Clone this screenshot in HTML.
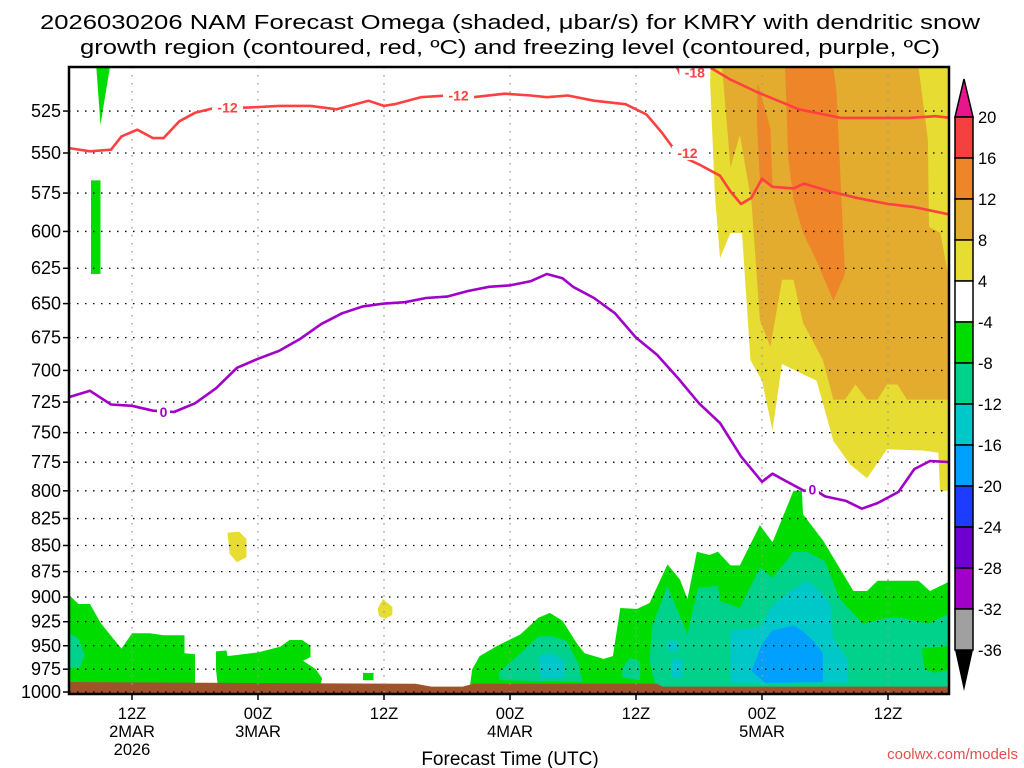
<!DOCTYPE html>
<html><head><meta charset="utf-8"><style>
html,body{margin:0;padding:0;background:#fff;}
svg{display:block;font-family:"Liberation Sans",sans-serif;}
</style></head><body>
<svg id="chart" width="1024" height="768" viewBox="0 0 1024 768" xmlns="http://www.w3.org/2000/svg">
<text x="510" y="29" font-size="20" text-anchor="middle" textLength="940" lengthAdjust="spacingAndGlyphs">2026030206 NAM Forecast Omega (shaded, μbar/s) for KMRY with dendritic snow</text>
<text x="510" y="54" font-size="20" text-anchor="middle" textLength="860" lengthAdjust="spacingAndGlyphs">growth region (contoured, red, ºC) and freezing level (contoured, purple, ºC)</text>
<text x="510" y="765" font-size="19" text-anchor="middle">Forecast Time (UTC)</text>
<text x="1018" y="759" font-size="15" text-anchor="end" fill="#e05050">coolwx.com/models</text>
<defs><clipPath id="plotclip"><rect x="69" y="67" width="880" height="627"/></clipPath></defs>
<g id="shade" clip-path="url(#plotclip)"></g>
<g id="grid"></g>
<g id="lines" clip-path="url(#plotclip)"></g>
<g id="axes"></g>
<g id="cbar"></g>
</svg>
<script>
const pressureTicks=[525,550,575,600,625,650,675,700,725,750,775,800,825,850,875,900,925,950,975,1000];
const timeTickHours=[6,18,30,42,54,66,78];
const timeTickLabels=[["12Z","2MAR","2026"],["00Z","3MAR"],["12Z"],["00Z","4MAR"],["12Z"],["00Z","5MAR"],["12Z"]];
// freezing level (0C) contour
const fzHours=[0,2,4,6,8,10,12,14,16,18,20,22,24,26,28,30,32,34,36,38,40,42,44,45.5,47,48,50,52,54,56,58,60,62,64,66,67,68,70,71,72,74,75.5,77,79,80.5,82,84];
const fzPres=[721,716,727,728,732,733,726,714,698,691,685,676,665,657,652,650,649,646,645,641,638,637,634,629,632,638,646,657,675,688,706,726,742,770,792,785,790,800,799,805,809,816,811,801,781,774,775];
// -12C contour
const m12Hours=[0,2,4,5,6.5,8,9,10.5,12,14,17,20,23,25.5,28.5,30,31,33.5,36,38.5,41.5,44,45.5,47.5,50,53,55,56.5,58,60,62,63,64,65,66,67,69,70,72.5,75,78,80.5,84];
const m12Pres=[547,549,548,540,536,541,541,531,526,523,523,522,522,524,519,522,521,517,516,517,515,516,517,516,519,521,527,538,551,557,564,574,582,578,566,571,572,569,574,578,582,584,589];
// -18C contour
const m18Hours=[61,63,65.5,69.5,73.5,77,80,82.5,84];
const m18Pres=[500,507,514,524,529,529,529,528,529];
const m18bHours=[57.9,58.3];
const m18bPres=[500,505];
// colorbar levels
const cbLabels=["20","16","12","8","4","-4","-8","-12","-16","-20","-24","-28","-32","-36"];
const cbColors=["#f54040","#ef8529","#e3ac2f","#e6dc32","#ffffff","#00dc00","#00d28c","#00c8c8","#00a0ff","#1e3cff","#6e00d2","#a000c8","#a0a0a0"];
// shaded omega regions: [hour, pressure] pairs
const regYellow=[[61,500],[84,500],[84,800],[82.95,800],[82.8,767],[81.3,765],[77.9,764],[76,789],[74.4,777],[72.8,757],[71.2,708],[67.9,695],[67,748],[66,708],[64.9,692],[64.1,601],[63,601],[62,618],[61.5,575]];
const regGold=[[62.2,500],[80.9,500],[81.8,542],[81.9,597],[83,601],[83.7,629],[84,629],[84,723],[79.8,723],[78.9,711],[77.9,711],[77,723],[76,723],[74.9,711],[73.9,723],[72.8,723],[71.8,692],[69.9,664],[69,633],[67.9,633],[66.8,682],[65.8,662],[65,581],[63.9,539],[63,559]];
const regOrange=[[68.2,500],[72.8,500],[73.1,514],[73.9,629],[72.8,648],[71.2,620],[69.9,601],[69,579],[68.5,554]];
const regOrange2=[[65.6,509],[66.8,535],[67,571],[65.8,567],[65.5,531]];
const regYellowS1=[[15.1,838],[16.2,837],[16.9,844],[16.9,861],[16,866],[15.3,858]];
const regYellowS2=[[29.4,912],[29.9,902],[30.8,910],[30.8,918],[30.1,922],[29.5,919]];
const regGreenT=[[2.6,500],[3.9,500],[3.0,533]];
const regGreenR=[[2.1,567],[3.0,567],[3.0,629],[2.1,629]];
const regGreenA=[[0,898],[0.9,907],[2,907],[3,926],[4.4,945],[5,953],[6,937],[7.7,937],[9,939],[11,939],[11,958],[12,959],[12,1000],[0,1000]];
const regTealA=[[0,937],[0.9,942],[1.5,960],[1,974],[0,974]];
const regGreenB=[[14,956],[15,955],[15.1,961],[18,957],[20.1,951],[21,944],[22.2,944],[23,950],[23,962],[22.3,966],[23.5,975],[24.1,985],[23.9,995],[14.2,995],[14,976]];
const regGreenSq=[[28,979],[29,979],[29,987],[28,987]];
const regGreenC=[[38.2,992],[38.4,975],[39.1,961],[40.8,950],[43,938],[44.7,921],[45.8,916],[47,924],[48.4,948],[49.1,958],[50.9,964],[51.8,961],[52.5,911],[54.1,912],[55.3,906],[57,868],[58.2,883],[58.9,902],[59.8,856],[61,859],[61.8,856],[63,869],[63.9,869],[65.8,831],[67,847],[69,800],[69.8,800],[69.9,821],[71.8,845],[74.7,894],[76,894],[77,884],[80.9,884],[82,894],[84,884],[84,1000],[38.2,1000]];
const regTealC1=[[40.9,979],[43,958],[44.7,940],[46,940],[47.4,945],[48.5,969],[48.9,989],[41,987]];
const regTealC2=[[52.7,974],[53.4,963],[54.4,967],[54.4,987],[52.7,984]];
const regTealC3=[[55.5,931],[57,889],[58.9,938],[59.9,891],[61.8,889],[62,904],[63.9,911],[65.8,871],[67,881],[69,856],[70.3,856],[72,865],[73.4,902],[75.6,927],[77.9,921],[79.4,921],[81.8,927],[84,916],[84,1000],[56,1000],[55.3,967]];
const regGreenC2=[[81.2,953],[83.7,950],[84,950],[84,975],[82.5,979],[81.5,975]];
const regCyan1=[[44.7,962],[45.8,957],[47.2,966],[47.2,984],[44.9,985]];
const regCyan2=[[57,945],[58,945],[58,956],[57,956]];
const regCyan3=[[57.4,964],[58.4,964],[58.4,984],[57.4,984]];
const regCyan4=[[63,934],[65.8,931],[66.8,911],[68.7,894],[70.3,884],[71.5,894],[72.5,907],[72.8,942],[74.2,966],[74.2,990],[63,990]];
const regBlue=[[65,977],[66,948],[67,934],[69,929],[69.8,934],[70.9,945],[71.8,958],[71.8,989],[66.3,990]];
const groundHours=[0,33,34.5,37.5,38.5,56,56.5,84];
const groundPres=[989,991,994,994,991,991,994,994];

const NS="http://www.w3.org/2000/svg";
const X=h=>69+h*10.5;
const Y=p=>692+901.6*Math.log(p/1000);
function mk(tag,attrs,parent){const e=document.createElementNS(NS,tag);for(const k in attrs)e.setAttribute(k,attrs[k]);parent.appendChild(e);return e;}
const shade=document.getElementById('shade'),grid=document.getElementById('grid'),lines=document.getElementById('lines'),axes=document.getElementById('axes'),cbar=document.getElementById('cbar');

function poly(reg,color,name){
  const pts=reg.map(d=>X(d[0]).toFixed(1)+","+Y(d[1]).toFixed(1)).join(" ");
  const e=mk('polygon',{points:pts,fill:color},shade);
  
  
}
poly(regYellow,"#e6dc32","omega-4-8-region");
poly(regGold,"#e3ac2f","omega-8-12-region");
poly(regOrange,"#ef8529","omega-12-16-region");
poly(regOrange2,"#ef8529","omega-12-16-sliver");
poly(regYellowS1,"#e6dc32","omega-4-8-patch");
poly(regYellowS2,"#e6dc32","omega-4-8-blob");
poly(regGreenT,"#00dc00","omega-green-spike");
poly(regGreenR,"#00dc00","omega-green-bar");
poly(regGreenA,"#00dc00","omega-green-left");
poly(regTealA,"#00d28c","omega-teal-left");
poly(regGreenB,"#00dc00","omega-green-mid");
poly(regGreenSq,"#00dc00","omega-green-square");
poly(regGreenC,"#00dc00","omega-green-right");
poly(regTealC1,"#00d28c","omega-teal-1");
poly(regTealC2,"#00d28c","omega-teal-2");
poly(regTealC3,"#00d28c","omega-teal-3");
poly(regGreenC2,"#00dc00","omega-green-inner");
poly(regCyan1,"#00c8c8","omega-cyan-1");
poly(regCyan2,"#00c8c8","omega-cyan-2");
poly(regCyan3,"#00c8c8","omega-cyan-3");
poly(regCyan4,"#00c8c8","omega-cyan-4");
poly(regBlue,"#00a0ff","omega-blue");
// ground
{
  let d="M"+X(groundHours[0])+","+Y(groundPres[0]);
  for(let i=1;i<groundHours.length;i++)d+=" L"+X(groundHours[i]).toFixed(1)+","+Y(groundPres[i]).toFixed(1);
  d+=" L"+X(84)+",694 L69,694 Z";
  const g=mk('path',{d:d,fill:"#a0522d"},shade);
  
  
}
// grid
pressureTicks.forEach(p=>{
  const l=mk('line',{x1:69,x2:949,y1:Y(p),y2:Y(p),stroke:"#000","stroke-width":1.3,"stroke-dasharray":"1.5,6.5"},grid);
  
  
});
timeTickHours.forEach(h=>{
  const l=mk('line',{x1:X(h),x2:X(h),y1:67,y2:694,stroke:"#999","stroke-width":1.3,"stroke-dasharray":"1.5,6.5"},grid);
  
  
});
// contour lines
function line(hs,ps,color,name){
  const d=hs.map((h,i)=>(i?"L":"M")+X(h).toFixed(1)+","+Y(ps[i]).toFixed(1)).join(" ");
  const e=mk('path',{d:d,fill:"none",stroke:color,"stroke-width":2.6,"stroke-linejoin":"round"},lines);
  
  
}
line(fzHours,fzPres,"#a000c8","freezing-level-line");
line(m12Hours,m12Pres,"#ff4040","minus12-contour");
line(m18Hours,m18Pres,"#ff4040","minus18-contour");
line(m18bHours,m18bPres,"#ff4040","minus18-contour-stub");
function clabel(h,p,t,color,name){
  const x=X(h),y=Y(p);
  const r=mk('rect',{x:x-t.length*4.5-2,y:y-7,width:t.length*9+4,height:14,fill:"#fff"},lines);
  
  
  const e=mk('text',{x:x,y:y+5,"font-size":14,"font-weight":"bold","text-anchor":"middle",fill:color},lines);
  e.textContent=t;
  
  
}
clabel(15.1,523,"-12","#ff4040","label-minus12-a");
clabel(37.1,516,"-12","#ff4040","label-minus12-b");
clabel(58.9,550,"-12","#ff4040","label-minus12-c");
clabel(59.6,503,"-18","#ff4040","label-minus18");
clabel(9,733,"0","#a000c8","label-zero-a");
clabel(70.8,799,"0","#a000c8","label-zero-b");
// axes frame
{
  const f=mk('rect',{x:69,y:67,width:880,height:627,fill:"none",stroke:"#000","stroke-width":2.5},axes);
  
  
}
pressureTicks.forEach(p=>{
  const t=mk('line',{x1:63,x2:69,y1:Y(p),y2:Y(p),stroke:"#000","stroke-width":1.5},axes);
  
  
  const e=mk('text',{x:61,y:Y(p)+6,"font-size":18,"text-anchor":"end"},axes);
  e.textContent=p;
  
  
});
timeTickHours.forEach((h,i)=>{
  const t=mk('line',{x1:X(h),x2:X(h),y1:694,y2:700,stroke:"#000","stroke-width":1.5},axes);
  
  
  timeTickLabels[i].forEach((s,j)=>{
    const e=mk('text',{x:X(h),y:719+j*18,"font-size":16.5,"text-anchor":"middle"},axes);
    e.textContent=s;
    
    
  });
});
// colorbar
{
  const top=mk('polygon',{points:"955,117 973,117 964,79",fill:"#e8168c",stroke:"#000","stroke-width":1.5},cbar);
  
  
  cbColors.forEach((c,i)=>{
    const r=mk('rect',{x:955,y:117+i*41,width:18,height:41,fill:c,stroke:"#000","stroke-width":1.5},cbar);
    
    
  });
  const bot=mk('polygon',{points:"955,650 973,650 964,691",fill:"#000"},cbar);
  
  
  cbLabels.forEach((s,i)=>{
    const e=mk('text',{x:978,y:123+i*41,"font-size":16.5},cbar);
    e.textContent=s;
    
    
  });
}
</script>
</body></html>
